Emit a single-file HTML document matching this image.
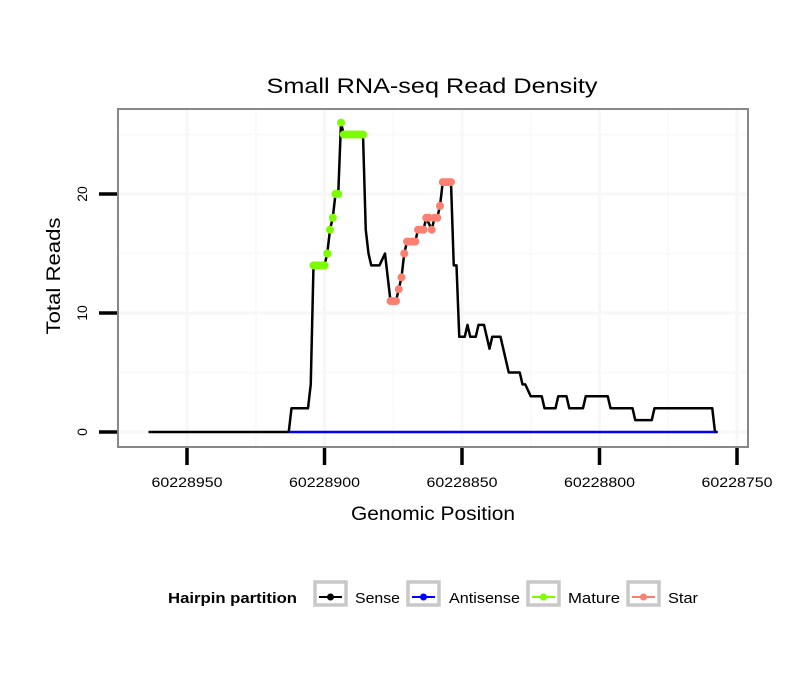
<!DOCTYPE html>
<html><head><meta charset="utf-8"><style>
body{margin:0;background:#fff;font-family:"Liberation Sans",sans-serif}
svg text{font-family:"Liberation Sans",sans-serif}
</style></head><body>
<svg id="chart" width="810" height="690" xmlns="http://www.w3.org/2000/svg">
<rect x="0" y="0" width="810" height="690" fill="#fff"/>
<text x="432" y="93" font-size="21" text-anchor="middle" textLength="331" lengthAdjust="spacingAndGlyphs">Small RNA-seq Read Density</text>
<g id="grid"></g>
<g id="series"></g>
<rect x="118" y="109" width="630" height="338" fill="none" stroke="#888" stroke-width="2"/>
<g id="axes"></g>
<text x="433" y="520" font-size="19" text-anchor="middle" textLength="164" lengthAdjust="spacingAndGlyphs">Genomic Position</text>
<text transform="translate(60,276) rotate(-90)" font-size="19" text-anchor="middle" textLength="117" lengthAdjust="spacingAndGlyphs">Total Reads</text>
<g>
<text x="168" y="603" font-size="15" font-weight="bold" textLength="129" lengthAdjust="spacingAndGlyphs">Hairpin partition</text>
<g><rect x="315" y="582" width="31" height="23" fill="#fff" stroke="#c8c8c8" stroke-width="3.5"/><line x1="319" y1="597" x2="342" y2="597" stroke="#000" stroke-width="2"/><circle cx="330.5" cy="597" r="3.5" fill="#000"/><text x="355" y="603" font-size="15" textLength="45" lengthAdjust="spacingAndGlyphs">Sense</text></g>
<g><rect x="408" y="582" width="31" height="23" fill="#fff" stroke="#c8c8c8" stroke-width="3.5"/><line x1="412" y1="597" x2="435" y2="597" stroke="#0000ff" stroke-width="2"/><circle cx="423.5" cy="597" r="3.5" fill="#0000ff"/><text x="449" y="603" font-size="15" textLength="71" lengthAdjust="spacingAndGlyphs">Antisense</text></g>
<g><rect x="528" y="582" width="31" height="23" fill="#fff" stroke="#c8c8c8" stroke-width="3.5"/><line x1="532" y1="597" x2="555" y2="597" stroke="#7cfc00" stroke-width="2"/><circle cx="543.5" cy="597" r="3.5" fill="#7cfc00"/><text x="568" y="603" font-size="15" textLength="52" lengthAdjust="spacingAndGlyphs">Mature</text></g>
<g><rect x="628" y="582" width="31" height="23" fill="#fff" stroke="#c8c8c8" stroke-width="3.5"/><line x1="632" y1="597" x2="655" y2="597" stroke="#fa8072" stroke-width="2"/><circle cx="643.5" cy="597" r="3.5" fill="#fa8072"/><text x="668" y="603" font-size="15" textLength="30" lengthAdjust="spacingAndGlyphs">Star</text></g>
</g>
</svg>
<script>
const BASE = 60228000;
const sensePos = [964,913,912,906,905,904,900,899,898,897,896,895,894,893,886,885,884,883,880,878,877,876,874,872,871,870,867,866,864,863,861,860,859,858,857,854,853,852,851,849,848,847,845,844,842,840,839,836,833,829,828,827,825,821,820,816,815,812,811,806,805,797,796,788,787,781,780,759,758,757];
const senseVals = [0,0,2,2,4,14,14,15,17,18,20,20,26,25,25,17,15,14,14,15,13,11,11,13,15,16,16,17,17,18,17,18,18,19,21,21,14,14,8,8,9,8,8,9,9,7,8,8,5,5,4,4,3,3,2,2,3,3,2,2,3,3,2,2,1,1,2,2,0,0];
const antisensePos = [913,758];
const antisenseVals = [0,0];
const matureStart = 904;
const matureVals = [14,14,14,14,14,15,17,18,20,20,26,25,25,25,25,25,25,25,25];
const starStart = 876;
const starVals = [11,11,11,12,13,15,16,16,16,16,17,17,17,18,18,17,18,18,19,21,21,21,21];
const xTicks = [950,900,850,800,750];
const yTicks = [0,10,20];
const xMinor = [925,875,825,775];
const yMinor = [5,15,25];

const NS = "http://www.w3.org/2000/svg";
function X(p){ return 187 + (950 - p) * 2.75; }
function Y(v){ return 432 - v * 11.9; }
function mk(tag, attrs, parent){ const e=document.createElementNS(NS,tag); for(const k in attrs) e.setAttribute(k,attrs[k]); parent.appendChild(e); return e; }
const grid=document.getElementById('grid'), axes=document.getElementById('axes'), series=document.getElementById('series');

xMinor.forEach(p=>{ const l=mk('line',{x1:X(p),x2:X(p),y1:110,y2:446,stroke:'#fafafa','stroke-width':2},grid);

 });
yMinor.forEach(v=>{ const l=mk('line',{x1:119,x2:747,y1:Y(v),y2:Y(v),stroke:'#fafafa','stroke-width':2},grid);

 });
xTicks.forEach(p=>{ const l=mk('line',{x1:X(p),x2:X(p),y1:110,y2:446,stroke:'#f7f7f7','stroke-width':3},grid);

 });
yTicks.forEach(v=>{ const l=mk('line',{x1:119,x2:747,y1:Y(v),y2:Y(v),stroke:'#f7f7f7','stroke-width':3},grid);

 });

xTicks.forEach(p=>{
 const t=mk('line',{x1:X(p),x2:X(p),y1:448,y2:465,stroke:'#000','stroke-width':3.5},axes);
 
 
 const tx=mk('text',{x:X(p),y:487,'font-size':14,'text-anchor':'middle',textLength:71,lengthAdjust:'spacingAndGlyphs'},axes);
 tx.textContent=String(BASE+p);
 
 
});
yTicks.forEach(v=>{
 const t=mk('line',{x1:99,x2:117,y1:Y(v),y2:Y(v),stroke:'#000','stroke-width':3.5},axes);
 
 
 const tx=mk('text',{transform:`translate(87,${Y(v)}) rotate(-90)`,'font-size':14,'text-anchor':'middle'},axes);
 tx.textContent=String(v);
 
 
});

const sp=mk('polyline',{points:sensePos.map((p,i)=>X(p)+','+Y(senseVals[i])).join(' '),fill:'none',stroke:'#000','stroke-width':2.5,'stroke-linejoin':'round'},series);


const ap=mk('polyline',{points:antisensePos.map((p,i)=>X(p)+','+Y(antisenseVals[i])).join(' '),fill:'none',stroke:'#0000ff','stroke-width':2.5},series);


matureVals.forEach((v,i)=>{ const c=mk('circle',{cx:X(matureStart-i),cy:Y(v),r:4,fill:'#7cfc00'},series);

 });
starVals.forEach((v,i)=>{ const c=mk('circle',{cx:X(starStart-i),cy:Y(v),r:4,fill:'#fa8072'},series);

 });
</script>
</body></html>
